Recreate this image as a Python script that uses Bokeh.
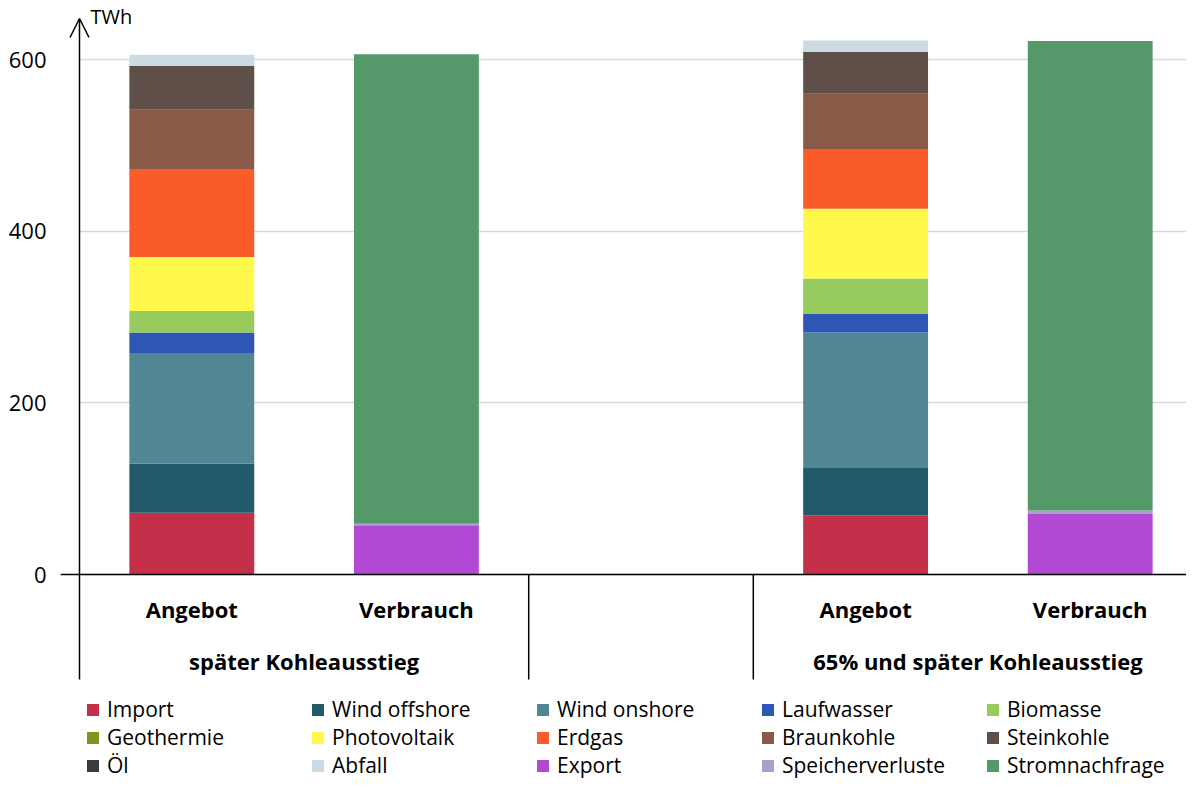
from bokeh.plotting import figure
from bokeh.models import (ColumnDataSource, Range1d, FixedTicker, Span, Arrow, OpenHead,
                          Legend, LegendItem, BoxAnnotation)
from bokeh.core.properties import value
from bokeh.embed import file_html
from bokeh.resources import INLINE

# ---------------- data ----------------
groups = ["später Kohleausstieg", "65% und später Kohleausstieg"]
categories = ["Angebot", "Verbrauch"]
unit = "TWh"
y_ticks = [0, 200, 400, 600]

series = ["Import", "Wind offshore", "Wind onshore", "Laufwasser", "Biomasse",
          "Geothermie", "Photovoltaik", "Erdgas", "Braunkohle", "Steinkohle",
          "Öl", "Abfall", "Export", "Speicherverluste", "Stromnachfrage"]

# values per bar: [später/Angebot, später/Verbrauch, 65%/Angebot, 65%/Verbrauch]
import_vals = [72, 0, 69, 0]
wind_offshore = [57, 0, 56, 0]
wind_onshore = [129, 0, 157, 0]
laufwasser = [24, 0, 22, 0]
biomasse = [25, 0, 41, 0]
geothermie = [0, 0, 0, 0]
photovoltaik = [63, 0, 81, 0]
erdgas = [102.5, 0, 69, 0]
braunkohle = [69, 0, 65, 0]
steinkohle = [51, 0, 49, 0]
oel = [0, 0, 0, 0]
abfall = [13, 0, 13, 0]
export = [0, 57.5, 0, 70.5]
speicherverluste = [0, 1.5, 0, 4]
stromnachfrage = [0, 547, 0, 547]

colors = ["#C4304A", "#225A69", "#518795", "#2E57B5", "#98CB5E",
          "#7F9521", "#FFF94B", "#FB5B28", "#8A5A48", "#5E5048",
          "#3B3B3B", "#CBDAE3", "#B249D5", "#A3A3CC", "#559869"]

values = [import_vals, wind_offshore, wind_onshore, laufwasser, biomasse,
          geothermie, photovoltaik, erdgas, braunkohle, steinkohle,
          oel, abfall, export, speicherverluste, stromnachfrage]

# ---------------- layout ----------------
W, H = 1186, 784
FRAME_LEFT = 60          # left edge of plotting frame (px)
AXIS_PX = 79             # position of the value axis (px)
SLOT_PX = 224.6          # width of one category slot (px)
ZERO_PX = 574            # distance from top of figure to y=0
PX_PER_UNIT = 515 / 600
y_end = ZERO_PX / PX_PER_UNIT
y_start = -(H - ZERO_PX) / PX_PER_UNIT
x_start = -(AXIS_PX - FRAME_LEFT) / SLOT_PX
x_end = (W - AXIS_PX) / SLOT_PX

font = "Open Sans"

# bar slot positions (one empty slot between groups)
per_group = len(categories) + 1
bar_x, bar_cat = [], []
for gi, g in enumerate(groups):
    for ci, c in enumerate(categories):
        bar_x.append(gi * per_group + ci + 0.5)
        bar_cat.append(c)
group_x = [gi * per_group + len(categories) / 2 for gi in range(len(groups))]
sep_x = []
for gi in range(len(groups) - 1):
    b = (gi + 1) * per_group - 1
    sep_x += [b, b + 1]

data = {"x": bar_x}
keys = []
for i, v in enumerate(values):
    k = f"s{i}"
    keys.append(k)
    data[k] = v
source = ColumnDataSource(data)

p = figure(width=W, height=H, output_backend="svg", toolbar_location=None,
           x_range=Range1d(x_start, x_end), y_range=Range1d(y_start, y_end),
           min_border_left=FRAME_LEFT, min_border_right=0, min_border_top=0, min_border_bottom=0)
p.outline_line_color = None
p.background_fill_color = "white"
p.border_fill_color = "white"
p.xaxis.visible = False
p.xgrid.visible = False

p.yaxis.ticker = FixedTicker(ticks=y_ticks)
p.ygrid.ticker = FixedTicker(ticks=y_ticks)
p.ygrid.grid_line_color = "#d9d9d9"
p.ygrid.grid_line_width = 1.5
p.yaxis.axis_line_color = None
p.yaxis.major_tick_line_color = None
p.yaxis.minor_tick_line_color = None
p.yaxis.major_label_standoff = 8
p.yaxis.major_label_text_font = font
p.yaxis.major_label_text_font_size = "22px"
p.yaxis.major_label_text_color = "black"

# hide grid left of the value axis
p.add_layout(BoxAnnotation(right=0, fill_color="white", fill_alpha=1, line_color=None, level="underlay"))

renderers = p.vbar_stack(keys, x="x", width=0.556, color=colors, line_color=None, source=source)

# x axis line at zero
p.add_layout(Span(location=0, dimension="width", line_color="black", line_width=1.5))

# y axis with arrow (extends below to form left separator)
sep_bottom = -105 / PX_PER_UNIT
arrow_top = (ZERO_PX - 18) / PX_PER_UNIT
p.add_layout(Arrow(end=OpenHead(size=19, line_width=1.5, line_color="black"),
                   x_start=0, y_start=sep_bottom, x_end=0, y_end=arrow_top,
                   line_color="black", line_width=1.5))

# group separators below axis
p.segment(x0=sep_x, y0=[0] * len(sep_x), x1=sep_x, y1=[sep_bottom] * len(sep_x),
          line_color="black", line_width=1.5)

# unit label
p.text(x=[0], y=[arrow_top], text=[unit], x_offset=11, y_offset=-2,
       text_font=value(font), text_font_size="20px", text_color="black",
       text_align="left", text_baseline="middle")

# category labels
p.text(x=bar_x, y=[0] * len(bar_x), text=bar_cat, y_offset=34,
       text_font=value(font), text_font_size="22px", text_font_style="bold",
       text_color="black", text_align="center", text_baseline="middle")
# group labels
p.text(x=group_x, y=[0] * len(group_x), text=groups, y_offset=86,
       text_font=value(font), text_font_size="22px", text_font_style="bold",
       text_color="black", text_align="center", text_baseline="middle")

items = [LegendItem(label=s, renderers=[r]) for s, r in zip(series, renderers)]
legend = Legend(items=items, orientation="horizontal", ncols=5,
                location=(25, 5), glyph_width=15, glyph_height=15,
                label_standoff=7, label_width=203, label_height=28, spacing=0,
                padding=0, margin=0, border_line_color=None,
                background_fill_alpha=0,
                label_text_font=font, label_text_font_size="21px",
                label_text_color="black")
p.add_layout(legend)

open("out.html", "w").write(file_html(p, INLINE))
